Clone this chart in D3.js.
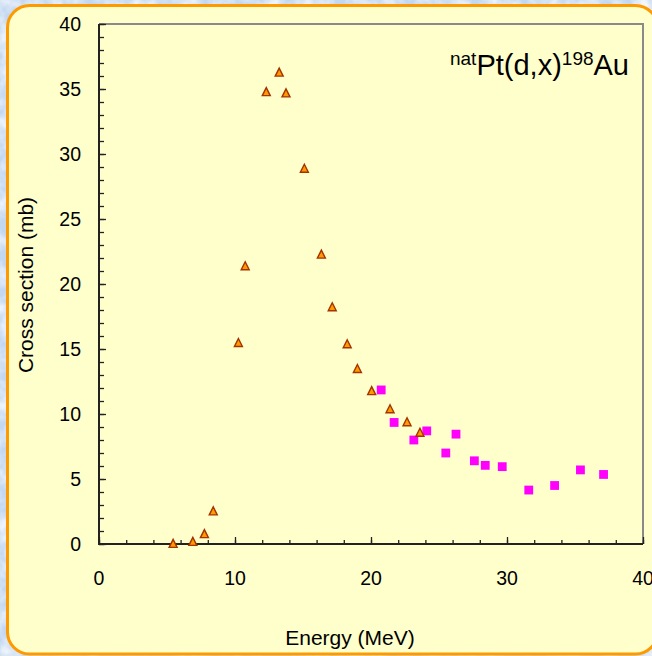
<!DOCTYPE html>
<html>
<head>
<meta charset="utf-8">
<script src="https://cdn.jsdelivr.net/npm/d3@7"></script>
<style>
  html, body { margin: 0; padding: 0; background: #c4d9f1; }
  svg { display: block; }
  text { font-family: "Liberation Sans", Arial, sans-serif; fill: #000; }
</style>
</head>
<body>
<script>
// ---- data ----
const triEnergy = [5.45, 6.9, 7.75, 8.4, 10.25, 10.75, 12.3, 13.25, 13.75, 15.1, 16.35, 17.15, 18.25, 19.0, 20.05, 21.4, 22.65, 23.6];
const triXS     = [0.05, 0.2, 0.8, 2.55, 15.5, 21.4, 34.8, 36.3, 34.7, 28.9, 22.3, 18.25, 15.4, 13.5, 11.8, 10.4, 9.4, 8.6];
const sqEnergy  = [20.75, 21.7, 23.15, 24.1, 25.5, 26.25, 27.6, 28.4, 29.65, 31.6, 33.5, 35.4, 37.1];
const sqXS      = [11.85, 9.35, 8.0, 8.7, 7.0, 8.45, 6.4, 6.05, 5.95, 4.15, 4.5, 5.7, 5.35];
const xTicks = [0, 10, 20, 30, 40];
const yTicks = [0, 5, 10, 15, 20, 25, 30, 35, 40];
const xMinor = d3.range(0, 40.01, 2);
const yMinor = d3.range(0, 40.01, 1);

const W = 652, H = 656;
const svg = d3.select("body").append("svg").attr("width", W).attr("height", H);
const defs = svg.append("defs");

// mottled light-blue backdrop
const f = defs.append("filter").attr("id", "mottle").attr("x", 0).attr("y", 0).attr("width", 1).attr("height", 1);
f.append("feTurbulence").attr("type", "fractalNoise").attr("baseFrequency", "0.06").attr("numOctaves", 3).attr("seed", 7).attr("result", "n");
f.append("feColorMatrix").attr("in", "n").attr("type", "matrix")
  .attr("values", "0 0 0 0 1  0 0 0 0 1  0 0 0 0 1  1.6 0 0 0 -0.55");
svg.append("rect").attr("width", W).attr("height", H).attr("fill", "#c2d7f0");
svg.append("rect").attr("width", W).attr("height", H).attr("fill", "#fff").attr("filter", "url(#mottle)");

// panel
svg.append("rect")
  .attr("x", 7.5).attr("y", 5.5).attr("width", 650).attr("height", 648.5)
  .attr("rx", 22).attr("ry", 22)
  .attr("fill", "#ffffcc").attr("stroke", "#ff9900").attr("stroke-width", 3);

const x = d3.scaleLinear().domain([0, 40]).range([99, 643]);
const y = d3.scaleLinear().domain([0, 40]).range([544, 24]);

// top & right frame (grey)
const g = svg.append("g");
g.append("path")
  .attr("d", `M${x(0)},${y(40)}H${x(40)}V${y(0)}`)
  .attr("fill", "none").attr("stroke", "#8a8a8a").attr("stroke-width", 2);

// minor ticks (inward)
const xAxisMinor = d3.axisTop(x).tickValues(xMinor).tickSize(4).tickFormat("");
const yAxisMinor = d3.axisRight(y).tickValues(yMinor).tickSize(5).tickFormat("");
const xAxisMajor = d3.axisTop(x).tickValues(xTicks).tickSize(7).tickFormat("");
const yAxisMajor = d3.axisRight(y).tickValues(yTicks).tickSize(7).tickFormat("");

function styleAxis(sel) {
  sel.select(".domain").remove();
  sel.selectAll(".tick line").attr("stroke", "#222").attr("stroke-width", 1.3);
}
g.append("g").attr("transform", `translate(0,${y(0)})`).call(xAxisMinor).call(styleAxis);
g.append("g").attr("transform", `translate(0,${y(0)})`).call(xAxisMajor).call(styleAxis);
g.append("g").attr("transform", `translate(${x(0)},0)`).call(yAxisMinor).call(styleAxis);
g.append("g").attr("transform", `translate(${x(0)},0)`).call(yAxisMajor).call(styleAxis);

// axis lines (left & bottom)
g.append("path")
  .attr("d", `M${x(0)},${y(40)}V${y(0)}H${x(40)}`)
  .attr("fill", "none").attr("stroke", "#222").attr("stroke-width", 2);

// tick labels
g.selectAll(".xl").data(xTicks).join("text")
  .attr("x", d => x(d)).attr("y", y(0) + 41)
  .attr("text-anchor", "middle").attr("font-size", 19.5).text(d => d);
g.selectAll(".yl").data(yTicks).join("text")
  .attr("x", x(0) - 18).attr("y", d => y(d) + 7)
  .attr("text-anchor", "end").attr("font-size", 19.5).text(d => d);

// axis titles
svg.append("text").attr("x", 350).attr("y", 645).attr("text-anchor", "middle")
  .attr("font-size", 21).text("Energy (MeV)");
svg.append("text").attr("transform", "translate(33,285) rotate(-90)").attr("text-anchor", "middle")
  .attr("font-size", 21).text("Cross section (mb)");

// reaction label
const t = svg.append("text").attr("x", 629).attr("y", 75).attr("text-anchor", "end").attr("font-size", 29);
t.append("tspan").attr("font-size", 19).attr("dy", -10).text("nat");
t.append("tspan").attr("dy", 10).text("Pt(d,x)");
t.append("tspan").attr("font-size", 19).attr("dy", -10).text("198");
t.append("tspan").attr("dy", 10).text("Au");

// markers
const sqData = sqEnergy.map((e, i) => ({ e, v: sqXS[i] }));
const triData = triEnergy.map((e, i) => ({ e, v: triXS[i] }));

const s = 8.8;
svg.append("g").selectAll("rect").data(sqData).join("rect")
  .attr("x", d => x(d.e) - s / 2).attr("y", d => y(d.v) - s / 2)
  .attr("width", s).attr("height", s).attr("fill", "#ff00ff");

// triangle centred on its bounding box
const triType = {
  draw(ctx, size) {
    const h = Math.sqrt(size);
    ctx.moveTo(0, -h / 2);
    ctx.lineTo(h / 2, h / 2);
    ctx.lineTo(-h / 2, h / 2);
    ctx.closePath();
  }
};
svg.append("g").selectAll("path").data(triData).join("path")
  .attr("transform", d => `translate(${x(d.e)},${y(d.v)})`)
  .attr("d", d3.symbol(triType, 64))
  .attr("fill", "#ff9900").attr("stroke", "#a33300").attr("stroke-width", 1.4)
  .attr("stroke-linejoin", "miter");
</script>
</body>
</html>
